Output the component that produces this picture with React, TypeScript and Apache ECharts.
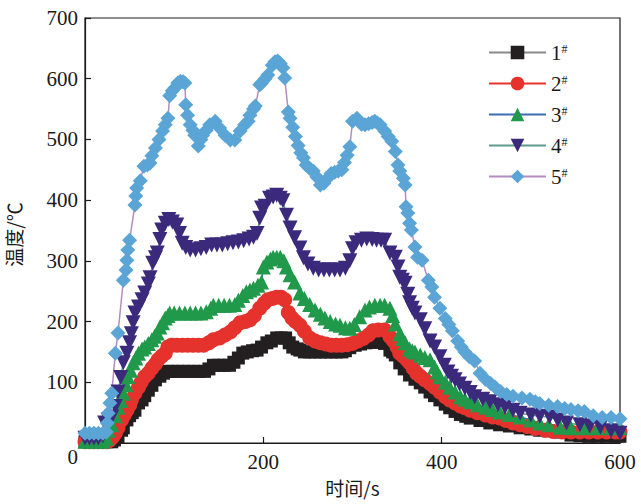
import React, { useEffect, useRef } from 'react';
import * as echarts from 'echarts';

// Series names (superscript # rendered in legend)
const seriesNames = ['1#', '2#', '3#', '4#', '5#'];

// Axis ranges / tick labels
const xMin = 0, xMax = 600, xInterval = 200;
const yMin = 0, yMax = 700, yInterval = 100;
const xAxisTitle = '时间/s';
const yAxisTitle = '温度/℃';

// [time (s), temperature (°C)]
const s1: number[][] = [
  [0, 2], [5, 2], [10, 2], [15, 2], [20, 2], [25, 2], [30, 2], [33, 5], [37, 10], [41, 21], [43, 25], [47, 38], [50, 45], [53, 50], [56, 54], [60, 66], [64, 71], [67, 78], [71, 87], [75, 95], [79, 104], [84, 110], [88, 115], [93, 118], [98, 118], [104, 118], [110, 118], [116, 118], [122, 118], [128, 118], [134, 118], [139, 122], [144, 128], [150, 128], [156, 128], [162, 128], [167, 133], [172, 140], [177, 148], [182, 150], [188, 152], [193, 153], [198, 158], [204, 165], [209, 168], [215, 173], [220, 173], [225, 173], [229, 165], [233, 158], [238, 155], [241, 153], [246, 150], [252, 150], [258, 150], [264, 150], [270, 150], [276, 150], [282, 150], [288, 150], [292, 152], [297, 157], [303, 161], [309, 163], [315, 165], [320, 166], [325, 166], [331, 166], [336, 164], [342, 153], [345, 150], [348, 145], [353, 132], [358, 122], [364, 112], [370, 105], [376, 99], [381, 92], [387, 84], [392, 78], [398, 71], [404, 64], [409, 58], [415, 52], [421, 47], [427, 44], [432, 41], [443, 37], [454, 33], [465, 30], [476, 28], [488, 25], [500, 23], [510, 21], [520, 20], [533, 18], [545, 13], [555, 12], [565, 11], [575, 11], [585, 11], [595, 11], [600, 11]
];

const s2: number[][] = [
  [0, 2], [5, 2], [10, 2], [15, 2], [20, 2], [25, 2], [28, 5], [31, 10], [34, 16], [37, 25], [41, 38], [44, 46], [47, 54], [50, 62], [52, 71], [56, 82], [60, 92], [63, 100], [67, 109], [71, 115], [75, 123], [79, 130], [82, 137], [86, 143], [90, 148], [93, 158], [97, 161], [103, 161], [109, 161], [115, 161], [121, 161], [127, 161], [133, 161], [139, 165], [144, 170], [151, 173], [157, 178], [163, 183], [168, 190], [174, 198], [180, 200], [185, 203], [190, 210], [196, 222], [201, 230], [205, 236], [210, 238], [215, 240], [220, 240], [224, 236], [228, 215], [232, 206], [236, 200], [241, 194], [246, 184], [252, 173], [258, 168], [264, 165], [270, 163], [276, 161], [282, 161], [288, 161], [294, 162], [300, 164], [306, 168], [312, 172], [318, 178], [323, 185], [329, 186], [336, 186], [342, 175], [346, 168], [350, 158], [353, 148], [357, 143], [361, 137], [364, 132], [368, 123], [372, 115], [376, 110], [381, 104], [387, 98], [392, 92], [398, 84], [404, 76], [409, 71], [415, 66], [421, 61], [426, 58], [432, 54], [440, 50], [449, 46], [457, 43], [465, 41], [472, 37], [480, 33], [488, 30], [496, 27], [505, 24], [516, 21], [525, 19], [535, 18], [545, 18], [555, 18], [565, 18], [575, 18], [585, 18], [595, 18], [600, 18]
];

const s3: number[][] = [
  [0, 3], [5, 3], [10, 3], [15, 3], [20, 3], [24, 8], [26, 21], [30, 30], [34, 45], [37, 59], [40, 70], [43, 82], [46, 96], [48, 109], [51, 120], [54, 132], [57, 140], [60, 148], [64, 155], [67, 158], [71, 164], [75, 170], [78, 176], [81, 181], [84, 191], [87, 198], [90, 206], [93, 210], [95, 214], [100, 214], [106, 214], [112, 214], [118, 214], [124, 214], [130, 214], [136, 216], [141, 222], [144, 227], [150, 227], [156, 227], [162, 227], [168, 228], [172, 235], [177, 243], [181, 249], [185, 252], [189, 255], [194, 260], [198, 265], [200, 290], [204, 298], [208, 303], [211, 306], [215, 306], [219, 306], [223, 300], [226, 290], [230, 277], [235, 265], [241, 247], [246, 238], [252, 228], [258, 219], [264, 212], [269, 206], [275, 200], [281, 196], [286, 194], [292, 190], [297, 189], [302, 195], [308, 208], [314, 219], [319, 224], [325, 227], [331, 227], [336, 227], [342, 222], [345, 210], [348, 196], [353, 180], [356, 172], [359, 165], [364, 155], [367, 152], [370, 150], [376, 145], [381, 141], [387, 137], [392, 125], [395, 117], [398, 109], [404, 100], [409, 92], [415, 84], [421, 76], [426, 72], [432, 68], [440, 63], [449, 59], [457, 55], [465, 51], [476, 47], [488, 43], [500, 38], [510, 33], [520, 30], [533, 26], [545, 25], [560, 25], [575, 25], [590, 25], [600, 25]
];

const s4: number[][] = [
  [0, 8], [5, 8], [10, 8], [15, 8], [20, 12], [22, 33], [26, 38], [30, 43], [34, 60], [37, 84], [40, 108], [43, 132], [47, 148], [50, 165], [52, 180], [54, 198], [56, 214], [60, 224], [64, 236], [67, 247], [71, 262], [73, 272], [76, 296], [79, 305], [81, 313], [84, 335], [86, 351], [90, 362], [94, 368], [98, 364], [103, 359], [106, 345], [109, 329], [113, 322], [118, 318], [124, 318], [130, 320], [136, 322], [142, 326], [148, 326], [154, 326], [160, 328], [166, 330], [172, 331], [178, 333], [184, 336], [189, 339], [193, 345], [196, 370], [198, 387], [202, 390], [207, 403], [211, 405], [215, 408], [219, 403], [222, 399], [226, 375], [230, 354], [235, 338], [241, 321], [245, 305], [250, 295], [256, 288], [262, 285], [268, 285], [274, 285], [280, 285], [286, 285], [292, 288], [297, 300], [300, 320], [304, 330], [310, 334], [316, 336], [322, 335], [327, 334], [332, 334], [336, 334], [342, 313], [348, 306], [351, 290], [353, 273], [356, 268], [359, 263], [362, 245], [364, 231], [367, 222], [370, 214], [376, 203], [381, 188], [387, 168], [392, 158], [398, 142], [403, 128], [407, 117], [411, 110], [415, 104], [420, 97], [426, 90], [432, 83], [437, 76], [446, 72], [454, 68], [463, 63], [471, 59], [480, 54], [488, 49], [500, 46], [510, 44], [521, 43], [530, 38], [540, 33], [555, 30], [566, 28], [578, 26], [590, 20], [600, 16]
];

const s5: number[][] = [
  [0, 16], [5, 16], [10, 16], [15, 16], [20, 16], [24, 18], [25, 33], [26, 49], [28, 66], [30, 82], [34, 148], [37, 181], [43, 268], [46, 285], [47, 301], [48, 318], [50, 334], [56, 392], [57, 407], [58, 420], [62, 432], [66, 456], [70, 458], [73, 461], [75, 473], [79, 486], [83, 500], [87, 514], [90, 524], [93, 535], [95, 572], [98, 580], [101, 585], [104, 593], [107, 596], [110, 595], [112, 593], [113, 557], [115, 540], [118, 524], [121, 515], [123, 507], [127, 489], [130, 500], [132, 507], [136, 515], [140, 524], [146, 530], [151, 519], [157, 507], [163, 499], [168, 499], [174, 514], [179, 524], [183, 530], [185, 540], [189, 550], [191, 555], [196, 590], [198, 593], [202, 600], [205, 606], [210, 622], [213, 628], [216, 629], [219, 625], [222, 618], [224, 601], [228, 545], [230, 535], [233, 520], [236, 505], [239, 490], [242, 478], [245, 470], [248, 458], [252, 452], [256, 448], [260, 438], [264, 425], [268, 428], [272, 436], [276, 444], [280, 446], [284, 448], [288, 450], [291, 462], [294, 474], [297, 488], [300, 530], [305, 535], [310, 525], [314, 524], [318, 526], [322, 528], [325, 530], [328, 527], [331, 524], [336, 514], [340, 505], [344, 497], [348, 480], [351, 458], [353, 448], [357, 436], [359, 425], [360, 389], [362, 379], [364, 362], [366, 351], [370, 323], [373, 306], [378, 301], [385, 268], [389, 257], [392, 240], [398, 222], [404, 205], [408, 195], [412, 185], [418, 168], [422, 158], [426, 150], [431, 142], [437, 135], [443, 115], [449, 105], [455, 98], [460, 92], [466, 85], [473, 80], [480, 77], [490, 74], [499, 72], [505, 68], [510, 65], [520, 62], [530, 60], [538, 57], [545, 55], [553, 53], [560, 52], [570, 45], [580, 42], [590, 42], [600, 40]
];

const seriesData = [s1, s2, s3, s4, s5];
const markerColors = ['#231f20', '#e5322c', '#20994a', '#3b2a7c', '#5aa5d5'];
const lineColors = ['#8a8a8a', '#e5322c', '#3d6db3', '#5f9a8c', '#b58cc0'];
const symbols = ['rect', 'circle', 'triangle', 'path://M0,0 L10,0 L5,10 Z', 'diamond'];
const symbolSizes = [13, 15, 15, 15, 15];

const serif = 'Liberation Serif';
const cjk = 'Noto Sans CJK SC';

export default function App() {
  const ref = useRef<HTMLDivElement>(null);
  useEffect(() => {
    if (!ref.current) return;
    const chart = echarts.init(ref.current, null, { renderer: 'svg' });
    const option: any = {
      animation: false,
      backgroundColor: '#ffffff',
      textStyle: { fontFamily: serif },
      grid: {
        left: 85, right: 21, top: 18, bottom: 61,
        containLabel: false,
        outerBoundsMode: 'none',
        show: true, borderColor: '#1a1a1a', borderWidth: 1.2, backgroundColor: 'transparent'
      },
      legend: {
        orient: 'vertical',
        left: 483,
        top: 37,
        itemWidth: 57,
        itemHeight: 17,
        itemGap: 10,
        data: seriesNames,
        formatter: (name: string) => `{n|${name.replace('#', '')}}{s|#}`,
        textStyle: {
          fontFamily: serif,
          color: '#1a1a1a',
          rich: {
            n: { fontSize: 21, fontFamily: serif, lineHeight: 20, color: '#1a1a1a' },
            s: { fontSize: 12, fontFamily: serif, lineHeight: 20, verticalAlign: 'top', padding: [0, 0, 8, 0], color: '#1a1a1a' }
          }
        }
      },
      xAxis: {
        type: 'value',
        min: xMin, max: xMax, interval: xInterval,
        name: xAxisTitle,
        nameLocation: 'middle',
        nameGap: 35,
        nameTextStyle: { fontFamily: cjk, fontSize: 19, color: '#1a1a1a' },
        axisLine: { show: true, lineStyle: { color: '#1a1a1a', width: 1.2 } },
        axisTick: { show: true, inside: true, length: 6, lineStyle: { color: '#1a1a1a', width: 1.2 } },
        splitLine: { show: false },
        axisLabel: {
          margin: 8,
          showMinLabel: false,
          fontFamily: serif, fontSize: 21, color: '#1a1a1a'
        }
      },
      yAxis: {
        type: 'value',
        min: yMin, max: yMax, interval: yInterval,
        name: yAxisTitle,
        nameLocation: 'middle',
        nameGap: 62,
        nameTextStyle: { fontFamily: cjk, fontSize: 19, color: '#1a1a1a', padding: [0, 8, 0, 0] },
        axisLine: { show: true, lineStyle: { color: '#1a1a1a', width: 1.2 } },
        axisTick: { show: true, inside: true, length: 6, lineStyle: { color: '#1a1a1a', width: 1.2 } },
        splitLine: { show: false },
        axisLabel: {
          margin: 7,
          fontFamily: serif, fontSize: 21, color: '#1a1a1a',
          formatter: (v: number) => (v === 0 ? '{z|0}' : String(v)),
          rich: { z: { fontFamily: serif, fontSize: 21, color: '#1a1a1a', padding: [28, 0, 0, 0] } }
        }
      },
      series: seriesData.map((d, i) => ({
        name: seriesNames[i],
        type: 'line',
        data: d,
        symbol: symbols[i],
        symbolSize: symbolSizes[i],
        showSymbol: true,
        showAllSymbol: true,
        itemStyle: { color: markerColors[i] },
        lineStyle: { color: lineColors[i], width: 1.5 },
        emphasis: { disabled: true }
      }))
    };
    chart.setOption(option);
    return () => chart.dispose();
  }, []);
  return (
    <div
      ref={ref}
      style={{ position: 'fixed', left: 0, top: 0, width: 641, height: 504, background: '#fff' }}
    />
  );
}
